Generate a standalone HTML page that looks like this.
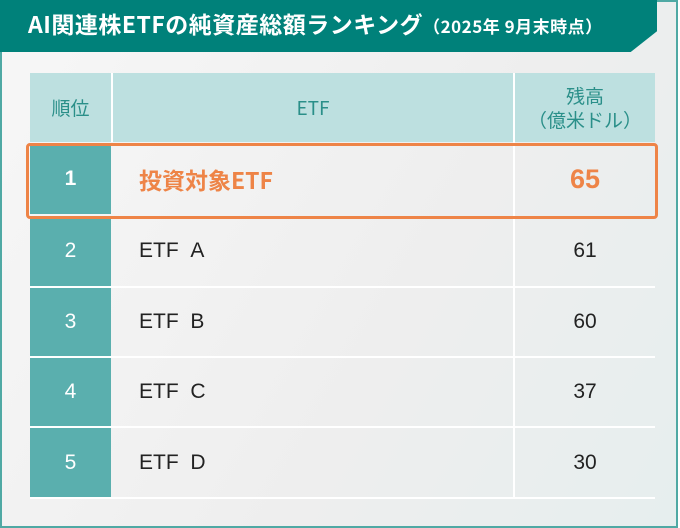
<!DOCTYPE html>
<html><head><meta charset="utf-8"><style>
body{margin:0;width:680px;height:528px;overflow:hidden;font-family:"Liberation Sans","Noto Sans CJK JP",sans-serif;background:#fff}
.frame{position:absolute;left:0;top:0;width:674px;height:524px;border:2px solid #4fa9a4;background:linear-gradient(120deg,#f7f7f7,#eeeeee 60%,#e6eeee)}
.banner{position:absolute;left:0;top:0;width:657px;height:52px;background:#00817a;clip-path:polygon(0 0,100% 0,100% 60%,96% 100%,0 100%)}
.banner span{position:absolute;left:28px;top:6px;color:#fff;font-weight:bold;font-size:23px;letter-spacing:0.5px;white-space:nowrap;font-family:"Noto Sans CJK JP",sans-serif}
.banner small{font-size:17px}
.cell{position:absolute;display:flex;align-items:center;justify-content:center;box-sizing:border-box}
.h{background:#bde0e0;color:#2a8f89;font-size:19px;font-family:"Noto Sans CJK JP",sans-serif}
.r{background:#5aafae;color:#fff;font-size:21px}
.n{color:#222;font-size:21px;justify-content:flex-start;padding-left:28px}
.v{color:#222;font-size:21px}
.line{position:absolute;left:30px;width:625px;height:2px;background:#fff}
.vl{position:absolute;width:2px;background:#fff}
</style></head><body>
<div class="frame"></div>
<div class="banner"><span>AI関連株ETFの純資産総額ランキング<small>（2025年 9月末時点）</small></span></div>
<div class="cell h" style="left:30px;top:73px;width:81px;height:69px">順位</div>
<div class="cell h" style="left:113px;top:73px;width:400px;height:69px">ETF</div>
<div class="cell h" style="left:515px;top:73px;width:140px;height:69px;line-height:1.25;text-align:center">残高<br>（億米ドル）</div>
<div class="vl" style="left:111px;top:73px;height:69px"></div>
<div class="vl" style="left:513px;top:73px;height:424px"></div>

<div class="cell r" style="left:30px;top:144px;width:81px;height:70px;font-weight:bold">1</div>
<div class="cell n" style="left:111px;top:144px;width:402px;height:70px;color:#ee8447;font-weight:bold;font-size:23px;font-family:'Noto Sans CJK JP',sans-serif">投資対象ETF</div>
<div class="cell v" style="left:515px;top:144px;width:140px;height:70px;color:#ee8447;font-weight:bold;font-size:27px">65</div>

<div class="cell r" style="left:30px;top:216px;width:81px;height:70px">2</div>
<div class="cell n" style="left:111px;top:216px;width:402px;height:70px">ETF&nbsp;&nbsp;A</div>
<div class="cell v" style="left:515px;top:216px;width:140px;height:70px">61</div>
<div class="line" style="top:286px"></div>
<div class="cell r" style="left:30px;top:288px;width:81px;height:68px">3</div>
<div class="cell n" style="left:111px;top:288px;width:402px;height:68px">ETF&nbsp;&nbsp;B</div>
<div class="cell v" style="left:515px;top:288px;width:140px;height:68px">60</div>
<div class="line" style="top:356px"></div>
<div class="cell r" style="left:30px;top:358px;width:81px;height:68px">4</div>
<div class="cell n" style="left:111px;top:358px;width:402px;height:68px">ETF&nbsp;&nbsp;C</div>
<div class="cell v" style="left:515px;top:358px;width:140px;height:68px">37</div>
<div class="line" style="top:426px"></div>
<div class="cell r" style="left:30px;top:428px;width:81px;height:69px">5</div>
<div class="cell n" style="left:111px;top:428px;width:402px;height:69px">ETF&nbsp;&nbsp;D</div>
<div class="cell v" style="left:515px;top:428px;width:140px;height:69px">30</div>
<div class="line" style="top:497px"></div>

<div style="position:absolute;left:26px;top:143px;width:626px;height:70px;border:3px solid #ee8447;border-radius:4px"></div>
</body></html>
